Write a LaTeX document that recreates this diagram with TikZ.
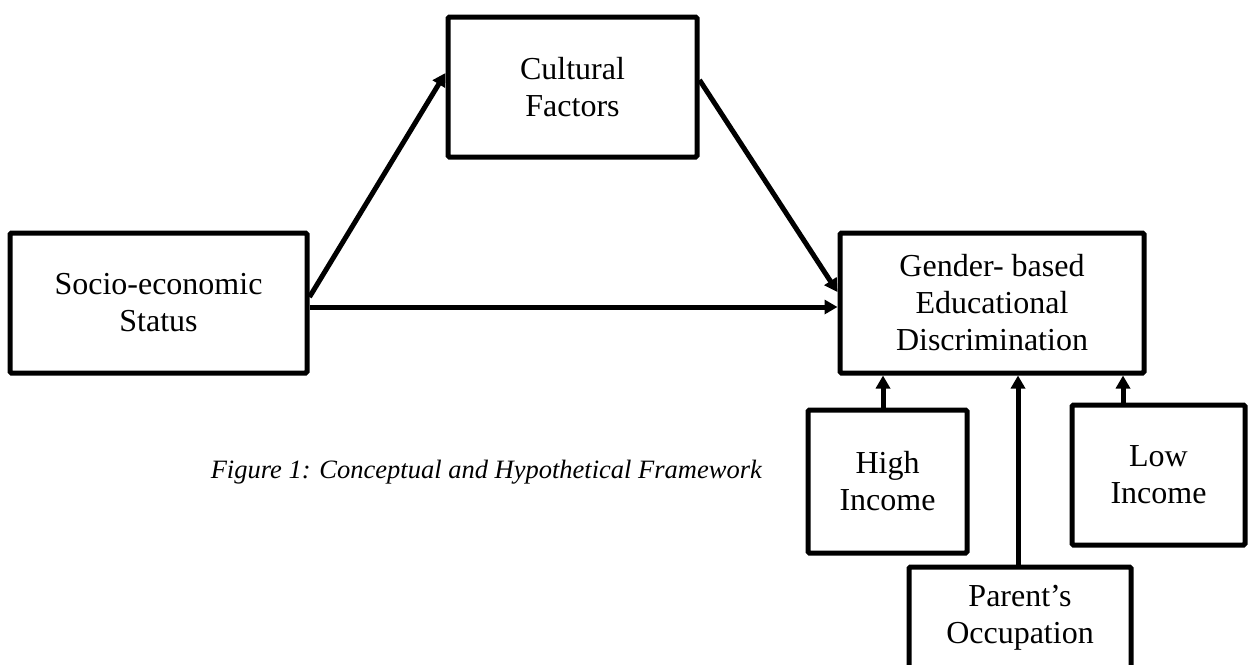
\documentclass[tikz,border=0pt]{standalone}
\usepackage{fontspec}
\setmainfont{Liberation Serif}
\usetikzlibrary{arrows.meta}

\tikzset{
  block/.style={draw=black, line width=5pt, rectangle, rounded corners=1.5pt,
    fill=white, inner sep=0pt, align=center,
    font=\fontsize{32}{37}\selectfont},
  link/.style={draw=black, line width=5pt,
    -{Triangle[length=13pt,width=14pt]}},
  caption/.style={font=\fontsize{26.5}{31}\selectfont\itshape, inner sep=0pt}
}

\begin{document}
\begin{tikzpicture}[x=1pt,y=-1pt]
  \useasboundingbox (0,0) rectangle (1250,664);

  % boxes
  \node[block, minimum width=249pt, minimum height=140pt] (cult) at (572.5,87)
    {Cultural\\Factors};
  \node[block, minimum width=297pt, minimum height=140pt] (ses) at (158.5,303)
    {Socio-economic\\Status};
  \node[block, minimum width=304pt, minimum height=140pt] (gbed) at (992,303)
    {Gender- based\\Educational\\Discrimination};
  \node[block, minimum width=159pt, minimum height=143pt] (high) at (887.5,481.5)
    {High\\Income};
  \node[block, minimum width=173pt, minimum height=140pt] (low) at (1158.5,475)
    {Low\\Income};
  \node[block, minimum width=222pt, minimum height=102pt] (par) at (1020,618)
    {Parent's\\Occupation};

  % caption
  \node[caption, anchor=base east] (cap) at (762,478)
    {Figure 1: Conceptual and Hypothetical Framework};

  % paths between the boxes
  \draw[link] ([yshift=6pt]ses.east) -- ([yshift=14pt]cult.west);
  \draw[link] ([yshift=7pt]cult.east) -- ([yshift=11pt]gbed.west);
  \draw[link] ([yshift=-4pt]ses.east) -- ([yshift=-4pt]gbed.west);

  % influences from below
  \draw[link] ([xshift=-4.5pt]high.north) -- ([xshift=-4.5pt]high.north |- gbed.south);
  \draw[link] ([xshift=-2pt]par.north) -- ([xshift=-2pt]par.north |- gbed.south);
  \draw[link] ([xshift=-35.5pt]low.north) -- ([xshift=-35.5pt]low.north |- gbed.south);
\end{tikzpicture}
\end{document}
